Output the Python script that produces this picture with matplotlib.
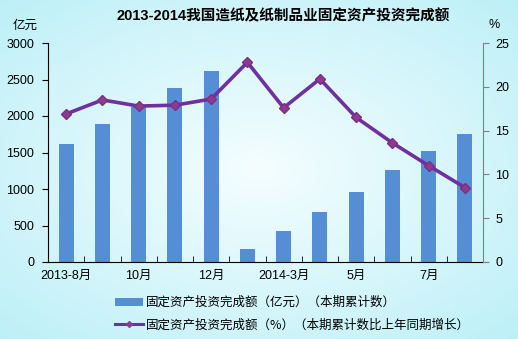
import numpy as np
import matplotlib
matplotlib.use("Agg")
import matplotlib.pyplot as plt
from matplotlib.lines import Line2D
from matplotlib.patches import Patch

plt.rcParams['font.family'] = ['Liberation Sans', 'Noto Sans CJK SC', 'DejaVu Sans']

categories = ["2013-8月", "9月", "10月", "11月", "12月", "2014-2月",
              "2014-3月", "4月", "5月", "6月", "7月", "8月"]
shown_labels = ["2013-8月", "", "10月", "", "12月", "",
                "2014-3月", "", "5月", "", "7月", ""]
investment = [1620, 1890, 2130, 2390, 2620, 180, 430, 690, 960, 1260, 1520, 1750]
growth = [16.9, 18.5, 17.8, 17.9, 18.6, 22.8, 17.6, 20.9, 16.5, 13.6, 11.0, 8.5]

title = "2013-2014我国造纸及纸制品业固定资产投资完成额"
bar_label = "固定资产投资完成额（亿元）（本期累计数）"
line_label = "固定资产投资完成额（%）（本期累计数比上年同期增长）"

W, H = 518, 339
fig = plt.figure(figsize=(W / 100, H / 100), dpi=100)

# radial background wash
bg = fig.add_axes([0, 0, 1, 1], zorder=-10)
yy, xx = np.mgrid[0:1:200j, 0:1:300j]
r = np.sqrt(((xx - 0.5) / 0.72) ** 2 + ((yy - 0.5) / 0.7) ** 2)
r = np.clip(r, 0, 1)
c_in = np.array([0.96, 0.995, 1.0])
c_out = np.array([0.74, 0.94, 0.97])
img = c_in[None, None, :] * (1 - r[..., None]) + c_out[None, None, :] * r[..., None]
bg.imshow(img, aspect='auto', extent=[0, 1, 0, 1], origin='lower')
bg.axis('off')

ax = fig.add_axes([48 / W, 1 - 262 / H, 435 / W, 219 / H])
ax.patch.set_alpha(0)
x = np.arange(len(categories))
ax.bar(x, investment, width=0.42, color='#558ed5', zorder=2)
ax.set_xlim(-0.5, len(categories) - 0.5)
ax.set_ylim(0, 3000)
ax.set_yticks(np.arange(0, 3001, 500))
ax.tick_params(axis='y', direction='out', length=4, labelsize=9, pad=6, colors='black')
ax.set_xticks(x)
ax.set_xticklabels(shown_labels, fontsize=9)
ax.tick_params(axis='x', length=0, pad=6)
ax.set_xticks(np.arange(-0.5, len(categories) + 0.5, 1), minor=True)
ax.tick_params(axis='x', which='minor', direction='in', length=4, color='black')
for s in ['top', 'right']:
    ax.spines[s].set_visible(False)

ax2 = ax.twinx()
ax2.plot(x, growth, color='#7030a0', lw=2.6, marker='D', markersize=5.5,
         markerfacecolor='#8e3a8e', markeredgecolor='#7a2f86', zorder=3)
ax2.set_ylim(0, 25)
ax2.set_yticks(np.arange(0, 26, 5))
ax2.tick_params(axis='y', direction='out', length=4, labelsize=9, pad=5, color='gray')
ax2.spines['right'].set_color('gray')
for s in ['top', 'left', 'bottom']:
    ax2.spines[s].set_visible(False)

fig.text(283 / W, 1 - 16 / H, title, ha='center', va='center', fontsize=10.5,
         fontweight='bold', family=['Liberation Sans', 'Noto Sans CJK SC'])
fig.text(25 / W, 1 - 25 / H, "亿元", ha='center', va='center', fontsize=9,
         family=['Noto Sans CJK SC'])
fig.text(494 / W, 1 - 25 / H, "%", ha='center', va='center', fontsize=9)

handles = [Patch(facecolor='#558ed5', edgecolor='none'),
           Line2D([0], [0], color='#7030a0', lw=2.2, marker='D', markersize=3,
                  markerfacecolor='#8e3a8e', markeredgecolor='#8e3a8e')]
leg = fig.legend(handles, [bar_label, line_label], loc='upper left',
                 bbox_to_anchor=(104 / W, 1 - 285 / H), frameon=False,
                 handlelength=2.2, handleheight=0.6,
                 labelspacing=0.75, handletextpad=0.25,
                 prop={'family': ['Noto Sans CJK SC', 'DejaVu Sans'], 'size': 9})

fig.savefig("out.png", dpi=100)
